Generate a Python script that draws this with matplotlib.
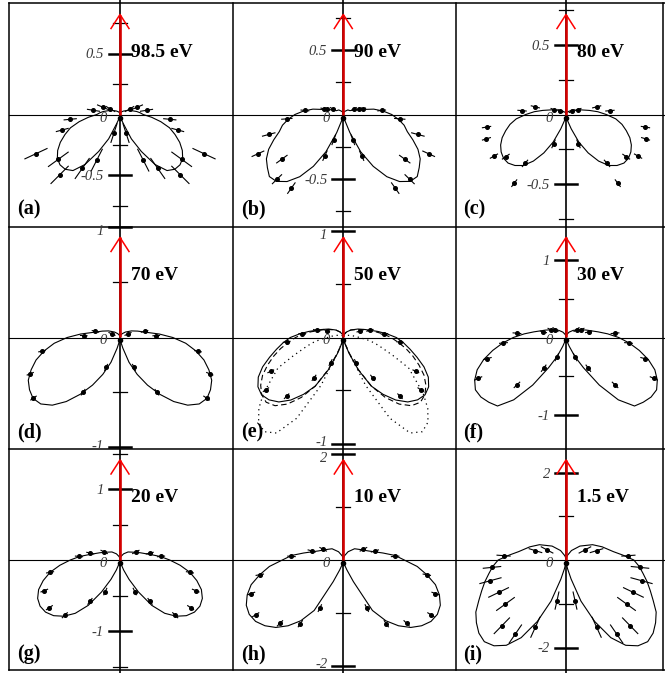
import numpy as np
import matplotlib.pyplot as plt

plt.rcParams['font.family'] = ['Liberation Serif', 'DejaVu Serif']

W, H = 665, 673
HALF = 111.5

# angle from the polarisation axis (deg) at which the model curves were read
theta = [0, 15, 30, 45, 60, 70, 80, 85, 90, 95, 100, 105, 110, 115, 120,
         125, 130, 135, 140, 145, 150, 155, 160, 165, 170, 180]

# model curves (right half, mirrored for the left half)
r_a = [0.01, 0.015, 0.025, 0.04, 0.065, 0.095, 0.14, 0.165, 0.19, 0.26, 0.34, 0.42, 0.48,
       0.54, 0.59, 0.627, 0.642, 0.635, 0.60, 0.50, 0.35, 0.22, 0.08, 0.04, 0.03, 0.03]
r_b = [0.01, 0.02, 0.03, 0.05, 0.06, 0.11, 0.24, 0.31, 0.376, 0.43, 0.48, 0.515, 0.575,
       0.64, 0.69, 0.72, 0.75, 0.735, 0.68, 0.59, 0.465, 0.32, 0.15, 0.05, 0.03, 0.03]
r_c = [0.01, 0.015, 0.02, 0.035, 0.06, 0.10, 0.17, 0.23, 0.29, 0.36, 0.41, 0.45, 0.49,
       0.52, 0.54, 0.55, 0.545, 0.52, 0.48, 0.41, 0.32, 0.22, 0.11, 0.05, 0.03, 0.03]
r_d = [0.01, 0.02, 0.04, 0.07, 0.12, 0.17, 0.26, 0.36, 0.48, 0.60, 0.70, 0.79, 0.86,
       0.92, 0.95, 0.965, 0.94, 0.87, 0.76, 0.63, 0.50, 0.37, 0.24, 0.10, 0.04, 0.03]
r_e = [0.01, 0.03, 0.06, 0.10, 0.16, 0.22, 0.33, 0.41, 0.50, 0.57, 0.64, 0.72, 0.81,
       0.885, 0.93, 0.942, 0.915, 0.86, 0.77, 0.655, 0.53, 0.34, 0.16, 0.06, 0.03, 0.03]
r_e_dash = [0.01, 0.03, 0.06, 0.10, 0.15, 0.21, 0.31, 0.38, 0.45, 0.52, 0.60, 0.68, 0.76,
            0.84, 0.90, 0.94, 0.95, 0.91, 0.82, 0.69, 0.53, 0.33, 0.14, 0.05, 0.03, 0.03]
r_e_dot = [0.01, 0.01, 0.02, 0.03, 0.04, 0.06, 0.09, 0.12, 0.15, 0.22, 0.30, 0.38, 0.50,
           0.68, 0.78, 0.92, 1.04, 1.13, 1.16, 1.10, 0.88, 0.50, 0.15, 0.05, 0.03, 0.03]
r_f = [0.02, 0.04, 0.08, 0.13, 0.20, 0.28, 0.42, 0.54, 0.68, 0.82, 0.96, 1.10, 1.22,
       1.30, 1.35, 1.34, 1.30, 1.25, 1.05, 0.75, 0.45, 0.27, 0.12, 0.05, 0.03, 0.03]
r_g = [0.02, 0.05, 0.10, 0.16, 0.22, 0.30, 0.44, 0.57, 0.70, 0.85, 1.00, 1.12, 1.22,
       1.28, 1.30, 1.28, 1.22, 1.12, 0.98, 0.78, 0.52, 0.30, 0.15, 0.06, 0.03, 0.03]
r_h = [0.03, 0.08, 0.18, 0.30, 0.39, 0.50, 0.76, 0.98, 1.15, 1.40, 1.60, 1.80, 1.93,
       2.02, 2.05, 2.02, 1.93, 1.80, 1.62, 1.40, 1.10, 0.45, 0.20, 0.10, 0.05, 0.03]
r_i = [0.03, 0.10, 0.25, 0.45, 0.70, 0.88, 1.10, 1.30, 1.55, 1.68, 1.79, 1.92, 2.05,
       2.20, 2.38, 2.50, 2.60, 2.64, 2.56, 2.38, 2.05, 1.55, 1.00, 0.45, 0.20, 0.05]

# measured points (right half): angle, radius, error
pa_ang = [60, 67, 81, 95.5, 105, 115, 126, 135, 145, 153, 162]
pa_r = [0.09, 0.15, 0.22, 0.41, 0.49, 0.76, 0.625, 0.70, 0.54, 0.42, 0.16]
pa_err = [0.04, 0.05, 0.05, 0.05, 0.05, 0.10, 0.10, 0.10, 0.10, 0.10, 0.08]

pb_ang = [62, 70.5, 74, 84, 94.4, 105, 114.7, 126, 134.3, 144.8, 156, 159.4]
pb_r = [0.094, 0.132, 0.16, 0.30, 0.44, 0.60, 0.73, 0.59, 0.72, 0.70, 0.35, 0.21]
pb_err = [0.02, 0.02, 0.02, 0.03, 0.04, 0.05, 0.05, 0.05, 0.05, 0.05, 0.04, 0.04]

pc_ang = [58.6, 68, 76, 85, 99, 107, 120, 125, 140, 143, 157]
pc_r = [0.048, 0.096, 0.228, 0.318, 0.58, 0.60, 0.60, 0.53, 0.46, 0.62, 0.23]
pc_err = [0.02, 0.02, 0.03, 0.03, 0.03, 0.03, 0.03, 0.03, 0.03, 0.03, 0.03]

pd_ang = [66, 76, 87, 100, 112, 125, 146, 155]
pd_r = [0.08, 0.23, 0.33, 0.72, 0.88, 0.96, 0.60, 0.30]
pd_err = [0.03, 0.03, 0.03, 0.03, 0.03, 0.03, 0.03, 0.03]

pe_ang = [68, 75, 85, 94.6, 115, 124, 136, 144, 153]
pe_r = [0.17, 0.26, 0.39, 0.537, 0.755, 0.88, 0.77, 0.47, 0.265]
pe_err = [0.03, 0.03, 0.03, 0.03, 0.03, 0.03, 0.03, 0.03, 0.03]

pf_ang = [53, 63, 76, 85, 95, 105, 115, 134, 144, 155]
pf_r = [0.17, 0.22, 0.30, 0.635, 0.81, 1.05, 1.25, 0.88, 0.49, 0.28]
pf_err = [0.04, 0.04, 0.04, 0.05, 0.05, 0.05, 0.05, 0.05, 0.05, 0.05]

pg_ang = [63, 77, 85, 100, 112, 124, 135, 144, 155]
pg_r = [0.25, 0.43, 0.58, 1.00, 1.15, 1.20, 1.10, 0.72, 0.49]
pg_err = [0.05, 0.05, 0.05, 0.05, 0.05, 0.05, 0.05, 0.05, 0.05]

ph_ang = [62, 74, 86, 100, 110, 122, 135, 146, 154]
ph_r = [0.43, 0.62, 0.98, 1.60, 1.85, 1.95, 1.69, 1.45, 1.01]
ph_err = [0.07, 0.07, 0.07, 0.07, 0.07, 0.07, 0.07, 0.07, 0.07]

pi_ang = [62, 73, 86, 95.7, 105.3, 115.7, 126, 135.7, 145.6, 155.5, 167.5]
pi_r = [0.49, 0.73, 1.43, 1.70, 1.79, 1.71, 1.71, 2.10, 2.05, 1.69, 0.95]
pi_err = [0.15, 0.15, 0.15, 0.2, 0.25, 0.25, 0.25, 0.25, 0.25, 0.25, 0.2]

energies = ['98.5 eV', '90 eV', '80 eV', '70 eV', '50 eV', '30 eV', '20 eV', '10 eV', '1.5 eV']
letters = ['(a)', '(b)', '(c)', '(d)', '(e)', '(f)', '(g)', '(h)', '(i)']
curves = [r_a, r_b, r_c, r_d, r_e, r_f, r_g, r_h, r_i]
points = [(pa_ang, pa_r, pa_err), (pb_ang, pb_r, pb_err), (pc_ang, pc_r, pc_err),
          (pd_ang, pd_r, pd_err), (pe_ang, pe_r, pe_err), (pf_ang, pf_r, pf_err),
          (pg_ang, pg_r, pg_err), (ph_ang, ph_r, ph_err), (pi_ang, pi_r, pi_err)]
# pixels per unit and tick steps (minor, major)
scales = [122, 128.7, 138.7, 110, 106, 77.5, 71, 53, 43.75]
steps = [(0.25, 0.5)] * 3 + [(0.5, 1)] * 4 + [(1, 2)] * 2

col_x = [120, 343.3, 566]
row_y = [114.5, 337.5, 560]
grid_x = [9, 232.5, 455.5, 663]
grid_y = [3.3, 226.7, 449.3, 670]


def to_xy(ang, rad):
    t = np.radians(ang)
    rad = np.asarray(rad, float)
    return rad * np.sin(t), rad * np.cos(t)


def closed(ang, rad):
    x, y = to_xy(ang, rad)
    return np.concatenate([x, -x[::-1]]), np.concatenate([y, y[::-1]])


fig = plt.figure(figsize=(W / 100, H / 100), dpi=100)
ov = fig.add_axes([0, 0, 1, 1], zorder=0)
ov.set_xlim(0, W)
ov.set_ylim(H, 0)
ov.axis('off')
for x in grid_x:
    ov.plot([x, x], [grid_y[0], grid_y[-1]], color='black', lw=1.1)
for y in grid_y:
    ov.plot([grid_x[0], W], [y, y], color='black', lw=1.1)
for x in col_x:
    ov.plot([x, x], [0, H], color='black', lw=1.2)
for y in row_y:
    ov.plot([grid_x[0], W], [y, y], color='black', lw=0.8)

for i in range(9):
    row, col = divmod(i, 3)
    cx, cy = col_x[col], row_y[row]
    s = scales[i]
    px = 1.0 / s
    ax = fig.add_axes([(cx - HALF) / W, 1 - (cy + HALF) / H, 2 * HALF / W, 2 * HALF / H],
                      zorder=1)
    ax.set_xlim(-HALF * px, HALF * px)
    ax.set_ylim(-HALF * px, HALF * px)
    ax.axis('off')
    ax.patch.set_alpha(0)

    # ticks and labels
    minor, major = steps[i]
    n = int((HALF + 1) * px / minor)
    for k in range(-n, n + 1):
        v = k * minor
        if k == 0:
            continue
        is_major = abs(v / major - round(v / major)) < 1e-6
        half = 11 if is_major else 7
        ax.plot([-half * px, half * px], [v, v], color='black',
                lw=1.8 if is_major else 0.9, clip_on=False)
        if is_major:
            # labels sitting on a cell edge are nudged inward a little
            nudge = -np.sign(v) * 2.5 * px if abs(v) * s > HALF - 12 else 0
            ax.text(-16 * px, v + nudge, '{:g}'.format(v), ha='right',
                    va='center_baseline', fontsize=10.5, style='italic',
                    color='#3a3a3a', clip_on=False)
    ax.text(-13 * px, -2 * px, '0', ha='right', va='center_baseline', fontsize=10.5,
            style='italic', color='#3a3a3a')

    # model curves
    x, y = closed(theta, curves[i])
    ax.plot(x, y, color='black', lw=0.8)
    if i == 4:
        x, y = closed(theta, r_e_dash)
        ax.plot(x, y, color='black', lw=0.8, ls=(0, (5, 3)))
        x, y = closed(theta, r_e_dot)
        ax.plot(x, y, color='black', lw=0.9, ls=(0, (1, 3)))

    # measured points with radial error bars
    ang, rad, err = points[i]
    for sign in (1, -1):
        xc, yc = to_xy(ang, rad)
        x0, y0 = to_xy(ang, np.asarray(rad) - np.asarray(err))
        x1, y1 = to_xy(ang, np.asarray(rad) + np.asarray(err))
        for j in range(len(ang)):
            ax.plot([sign * x0[j], sign * x1[j]], [y0[j], y1[j]], color='black', lw=0.8)
        ax.plot(sign * xc, yc, 'o', color='black', ms=2.6)

    ax.plot([0], [-3 * px], 'o', color='black', ms=3)

    # polarisation arrow
    ax.plot([0, 0], [0, 100 * px], color='#d40000', lw=1.9, solid_capstyle='butt')
    ax.plot([-9 * px, 0, 9 * px], [86 * px, 100 * px, 86 * px], color='red', lw=1.1)

    ax.text(11 * px, 62 * px, energies[i], ha='left', va='center', fontsize=14,
            fontweight='bold')
    ax.text(-HALF * px + 9 * px, -HALF * px + 17 * px, letters[i], ha='left',
            va='center', fontsize=14.5, fontweight='bold')

fig.savefig('out.png', dpi=100)
